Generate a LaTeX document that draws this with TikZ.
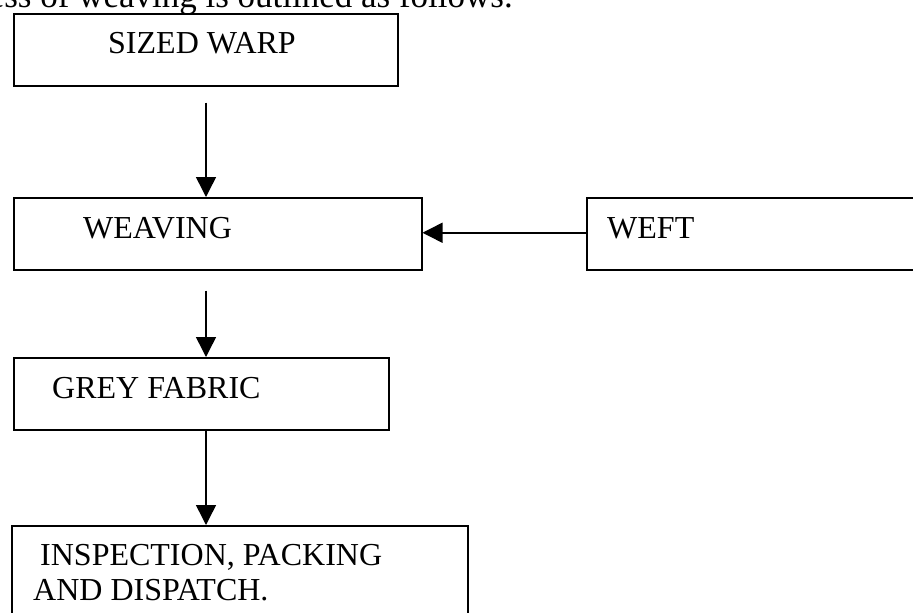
\documentclass[tikz,border=0pt]{standalone}
\usepackage{fontspec}
\setmainfont{Liberation Serif}
\usetikzlibrary{arrows.meta}

\tikzset{
  box/.style={draw, line width=1.5pt, rectangle, inner sep=0pt, anchor=north west},
  label text/.style={anchor=base west, inner sep=0pt, font=\fontsize{32}{35}\selectfont},
  flow/.style={line width=1.5pt, -{Triangle[length=20pt,width=20pt]}}
}

\begin{document}
\begin{tikzpicture}[x=1pt, y=-1pt]
  \useasboundingbox (0,0) rectangle (913,613);
  \clip (0,0) rectangle (913,613);

  % running text line above the chart
  \node[anchor=base east, inner sep=0pt, font=\fontsize{35}{40}\selectfont] (intro) at (513,7)
    {ess of weaving is outlined as follows.};

  % process boxes
  \node[box, minimum width=384pt, minimum height=72pt] (warp) at (13,13) {};
  \node[box, minimum width=408pt, minimum height=72pt] (weave) at (13,197) {};
  \node[box, minimum width=340pt, minimum height=72pt] (weft) at (586,197) {};
  \node[box, minimum width=375pt, minimum height=72pt] (grey) at (13,357) {};
  \node[box, minimum width=456pt, minimum height=120pt] (insp) at (11,525) {};

  % box captions
  \node[label text] (warpT) at (108,53) {SIZED WARP};
  \node[label text] (weaveT) at (83,238) {WEAVING};
  \node[label text] (weftT) at (607,238) {WEFT};
  \node[label text] (greyT) at (52,398) {GREY FABRIC};
  \node[label text] (inspT) at (40,565) {INSPECTION, PACKING};
  \node[label text] (dispT) at (33,600) {AND DISPATCH.};

  % main column of arrows
  \coordinate (col) at (206,0);
  \draw[flow, shorten <=16pt] (col |- warp.south) -- (col |- weave.north);
  \draw[flow, shorten <=20pt] (col |- weave.south) -- (col |- grey.north);
  \draw[flow] (col |- grey.south) -- (col |- insp.north);

  % weft feed into weaving
  \draw[flow] ([yshift=1pt]weft.west) -- ([yshift=1pt]weft.west -| weave.east);
\end{tikzpicture}
\end{document}
